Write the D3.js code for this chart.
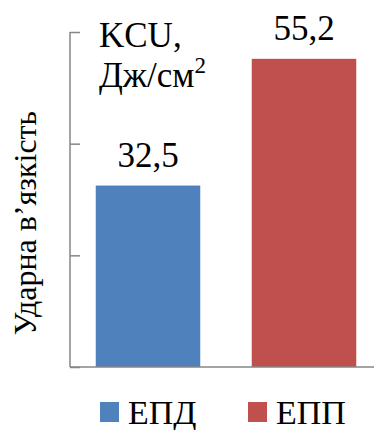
<!DOCTYPE html>
<html>
<head>
<meta charset="utf-8">
<script src="https://cdn.jsdelivr.net/npm/d3@7"></script>
<style>
  html, body { margin: 0; padding: 0; background: #fff; }
  svg { display: block; }
</style>
</head>
<body>
<svg id="chart" width="374" height="430"></svg>
<script>
// Impact toughness KCU for two sample groups
const categories = ["ЕПД", "ЕПП"];
const values = [32.5, 55.2];
const valueLabels = ["32,5", "55,2"];
const colors = ["#4F81BD", "#C0504D"];
const yTicks = [0, 20, 40, 60];

const FONT = "'Liberation Serif', 'Times New Roman', 'DejaVu Serif', serif";

const svg = d3.select("#chart")
  .attr("font-family", FONT);
const margin = { left: 70, top: 32, bottom: 63 };
const plotBottom = 430 - margin.bottom;
const plotRight = 382;

const x = d3.scaleBand()
  .domain(categories)
  .range([margin.left, plotRight])
  .paddingInner(0.33)
  .paddingOuter(0.165);

const y = d3.scaleLinear()
  .domain([0, 60])
  .range([plotBottom, margin.top]);

// Value axis: line with inward ticks, no numbers
const yAxis = d3.axisRight(y)
  .tickValues(yTicks)
  .tickSize(10)
  .tickFormat("");
const gy = svg.append("g")
  .attr("transform", `translate(${margin.left},0)`)
  .call(yAxis);
gy.select(".domain").attr("stroke", "#868686").attr("stroke-width", 1.5).attr("d", `M0,${margin.top}V${plotBottom}`);
gy.selectAll(".tick line").attr("stroke", "#868686").attr("stroke-width", 1.5);

// Bars
svg.append("g").selectAll("rect")
  .data(categories)
  .join("rect")
  .attr("x", d => x(d))
  .attr("width", x.bandwidth())
  .attr("y", (d, i) => y(values[i]))
  .attr("height", (d, i) => plotBottom - y(values[i]))
  .attr("fill", (d, i) => colors[i]);

// Category baseline
svg.append("line")
  .attr("x1", margin.left).attr("x2", 374)
  .attr("y1", plotBottom).attr("y2", plotBottom)
  .attr("stroke", "#868686").attr("stroke-width", 1.5);

// Value labels
svg.append("g").selectAll("text")
  .data(categories)
  .join("text")
  .attr("x", d => x(d) + x.bandwidth() / 2)
  .attr("y", (d, i) => y(values[i]) - 19)
  .attr("text-anchor", "middle")
  .attr("font-family", FONT)
  .attr("font-size", 35)
  .text((d, i) => valueLabels[i]);

// Units
const units = svg.append("text").attr("font-family", FONT).attr("font-size", 35);
units.append("tspan").attr("x", 99).attr("y", 47).text("KCU,");
units.append("tspan").attr("x", 99).attr("y", 87).text("Дж/см");
units.append("tspan").attr("dy", -14).attr("font-size", 23).text("2");

// Axis title
svg.append("text")
  .attr("transform", "translate(36,223) rotate(-90)")
  .attr("text-anchor", "middle")
  .attr("font-family", FONT)
  .attr("font-size", 32)
  .text("Ударна в’язкість");

// Legend
const legendX = [100, 248];
const legend = svg.append("g").selectAll("g")
  .data(categories)
  .join("g")
  .attr("transform", (d, i) => `translate(${legendX[i]},402)`);
legend.append("rect")
  .attr("width", 19).attr("height", 20)
  .attr("fill", (d, i) => colors[i]);
legend.append("text")
  .attr("x", 28).attr("y", 22)
  .attr("font-family", FONT)
  .attr("font-size", 34)
  .text(d => d);
</script>
</body>
</html>
